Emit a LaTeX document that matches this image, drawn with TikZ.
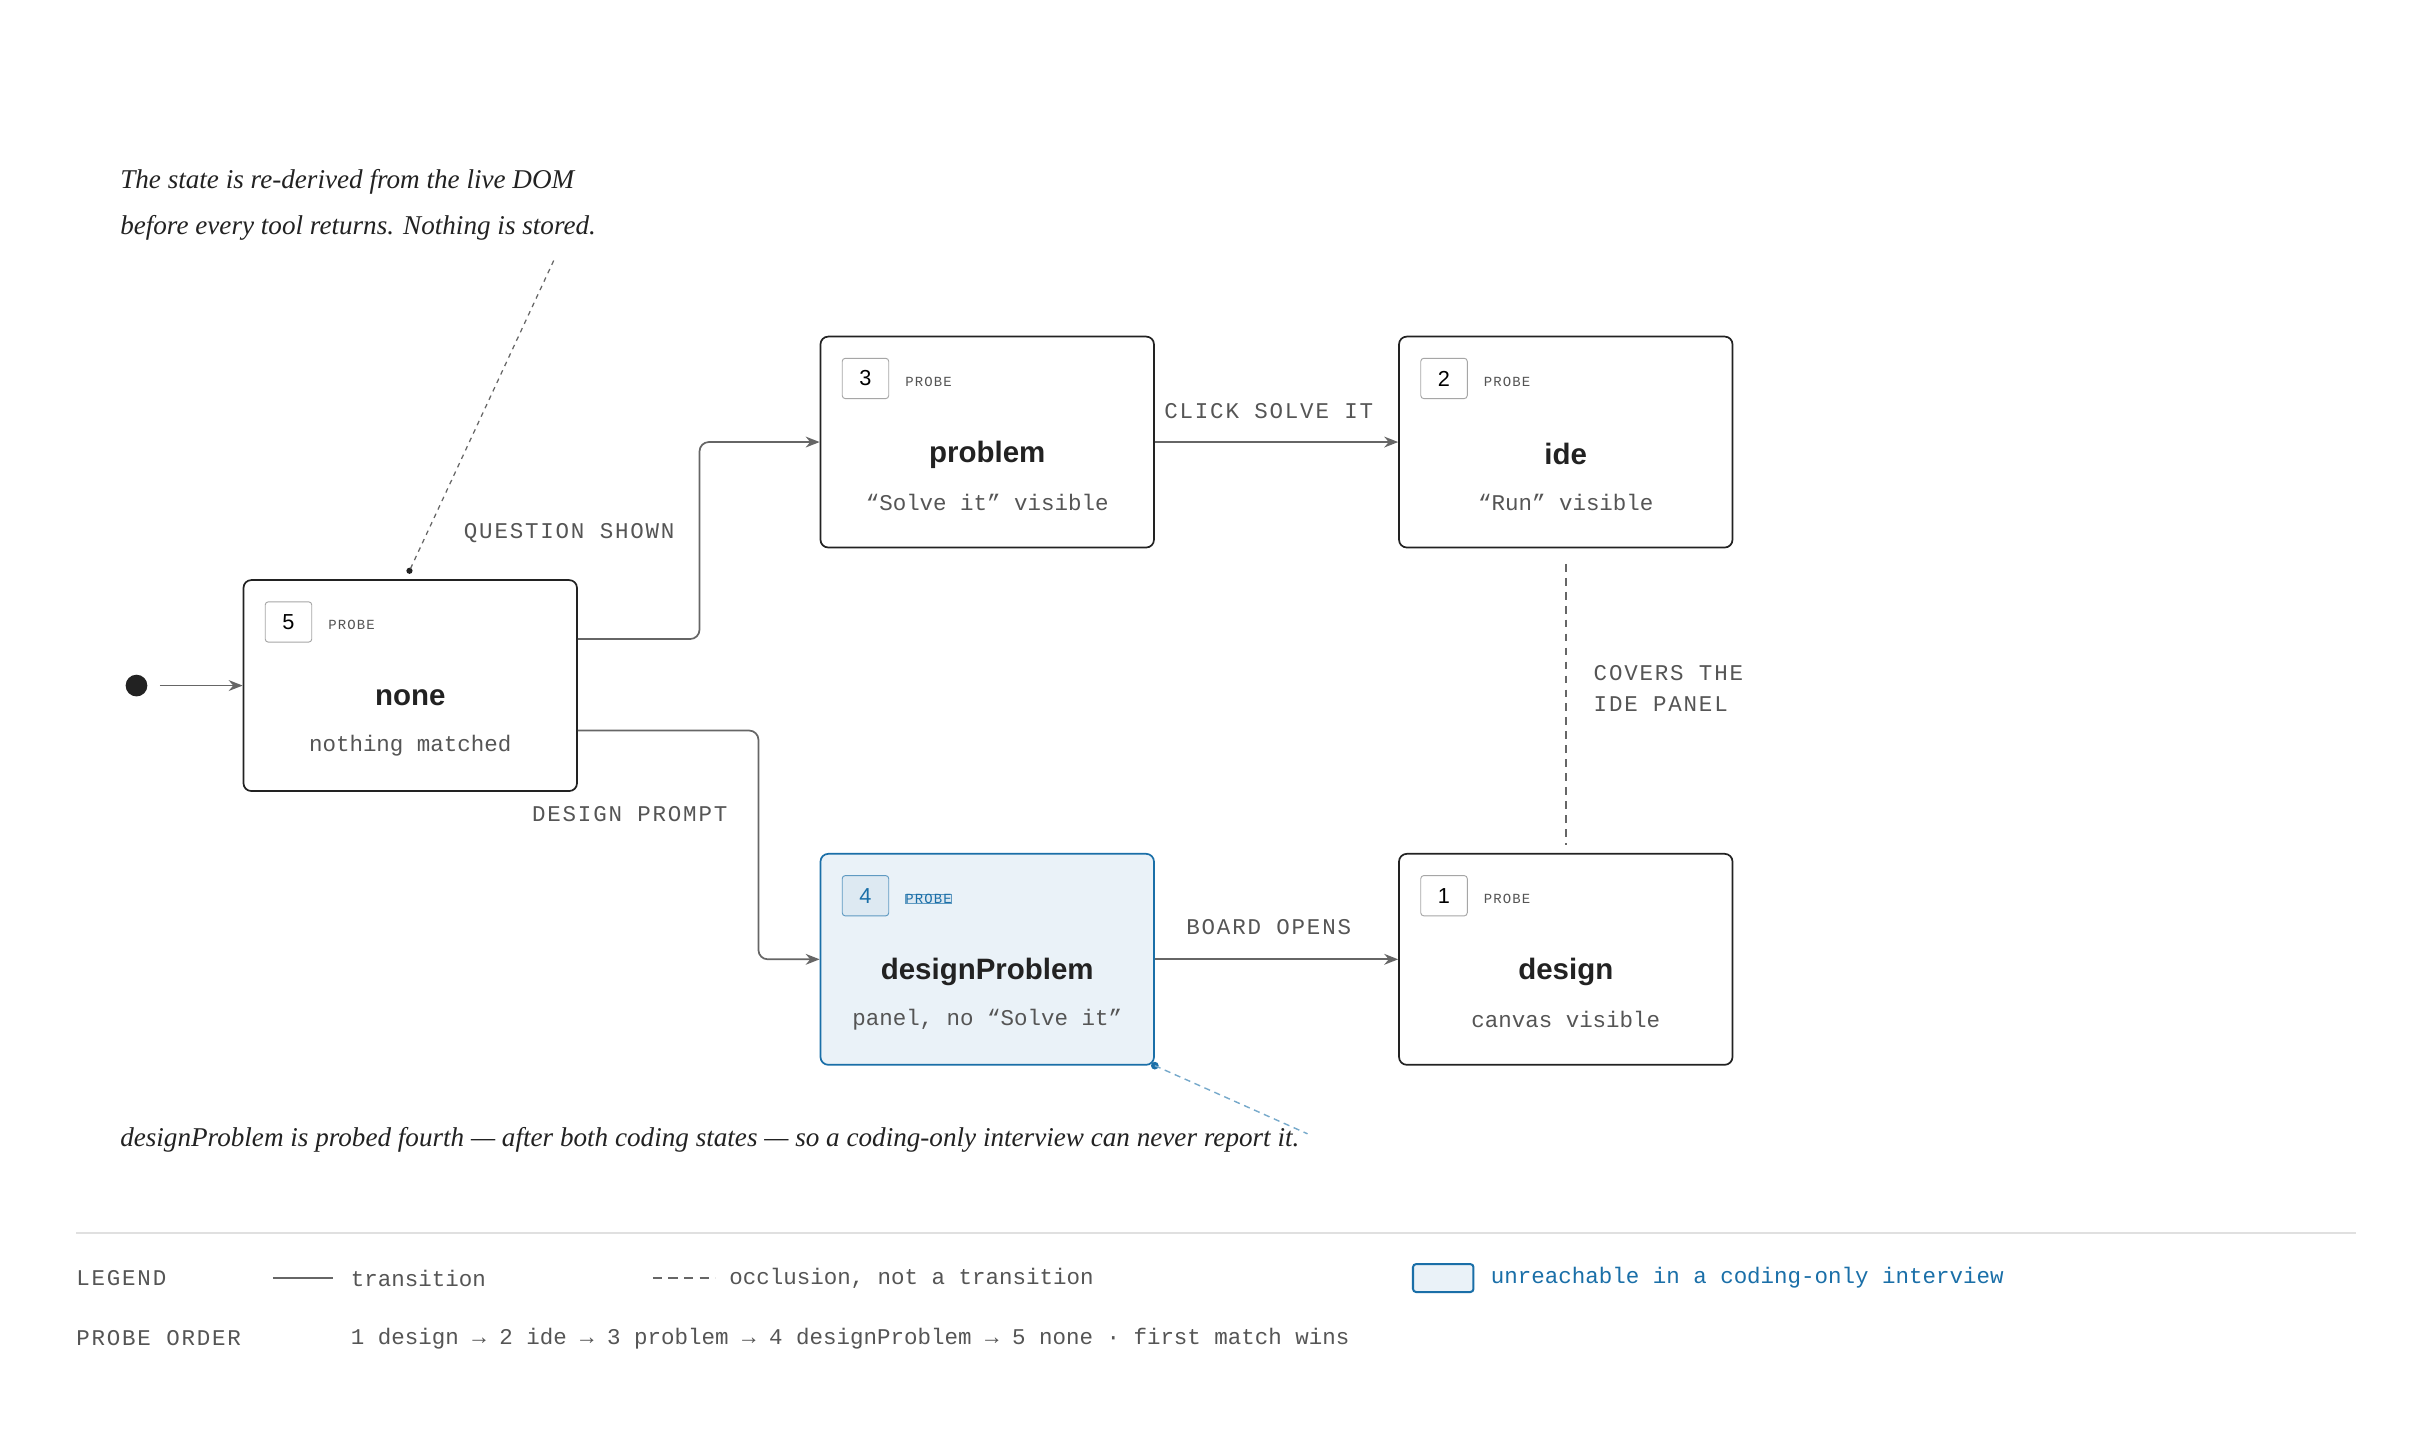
\documentclass[tikz,border=0pt]{standalone}
\usepackage{fontspec}
\setmainfont{Liberation Serif}
\setsansfont{Liberation Sans}
\setmonofont{Liberation Mono}
\newfontfamily\monosp{Liberation Mono}[LetterSpace=8]
\usetikzlibrary{calc,arrows.meta,positioning}
\definecolor{ink}{HTML}{222222}
\definecolor{wire}{HTML}{666666}
\definecolor{lbl}{HTML}{555555}
\definecolor{blu}{HTML}{1A6FA8}
\definecolor{blufill}{HTML}{EAF2F8}
\tikzset{
  state/.style={draw=ink,line width=1.1pt,rounded corners=5pt,fill=white,
    minimum width=215pt,minimum height=136pt},
  hot/.style={state,draw=blu,fill=blufill},
  badge/.style={draw=black!35,fill=white,rounded corners=2pt,line width=0.6pt,
    minimum width=30pt,minimum height=26pt,inner sep=0pt,font=\fontsize{14}{14}\sffamily},
  probe/.style={anchor=west,text=lbl,inner sep=0pt,font=\fontsize{9}{9}\monosp},
  title/.style={text=ink,font=\fontsize{19}{19}\sffamily\bfseries},
  sub/.style={text=lbl,font=\fontsize{14.5}{15}\ttfamily},
  edge/.style={draw=wire,line width=1.1pt,-{Stealth[length=9pt,width=7pt]},rounded corners=6pt},
  elabel/.style={text=lbl,font=\fontsize{14.5}{20}\monosp},
  note/.style={anchor=west,text=ink,font=\fontsize{17.5}{30}\itshape,align=left}
}
\newcommand{\mkstate}[6]{% name, style, center, number, title, subtitle
  \node[#2] (#1) at #3 {};
  \node[badge,#6] (#1num) at ($(#1.center)+(-78.5,-41)$) {#4};
  \node[probe,#6] (#1probe) at ($(#1.center)+(-53,-39)$) {PROBE};
  \node[title] (#1title) at ($(#1.center)+(0,8)$) {#5};
}
\begin{document}
\begin{tikzpicture}[x=1pt,y=-1pt]
\useasboundingbox[fill=white] (0,0) rectangle (1568,932);

% states
\mkstate{none}{state}{(264.5,442)}{5}{none}{}
\node[sub] (nonesub) at ($(none.center)+(0,39)$) {nothing matched};
\mkstate{problem}{state}{(636.5,285)}{3}{problem}{}
\node[sub] (problemsub) at ($(problem.center)+(0,39)$) {“Solve it” visible};
\mkstate{ide}{state}{(1009.5,285)}{2}{ide}{}
\node[sub] (idesub) at ($(ide.center)+(0,39)$) {“Run” visible};
\mkstate{dp}{hot}{(636.5,618.5)}{4}{designProblem}{draw=blu!70,fill=blu!15,text=blu}
\node[sub] (dpsub) at ($(dp.center)+(0,39)$) {panel, no “Solve it”};
\mkstate{design}{state}{(1009.5,618.5)}{1}{design}{}
\node[sub] (designsub) at ($(design.center)+(0,39)$) {canvas visible};

% start
\node[circle,fill=ink,minimum size=14pt,inner sep=0pt] (start) at (88,442) {};
\draw[edge] (start) ++(15,0) coordinate (s0) -- (none.west);

% transitions
\draw[edge] ($(none.east)+(0,-30)$) -| (451,330) |- (problem.west);
\draw[edge] ($(none.east)+(0,29)$) -| (489,560) |- (dp.west);
\draw[edge] (problem) -- (ide);
\draw[edge] (dp) -- (design);
\draw[wire,line width=1.1pt,dash pattern=on 5pt off 4pt]
  ($(ide.south)+(0,10)$) coordinate (occ1) -- ($(design.north)+(0,-5)$) coordinate (occ2);

\node[elabel] (lq) at (367,344) {QUESTION SHOWN};
\node[elabel] (ld) at (406,525) {DESIGN PROMPT};
\node[elabel] (lc) at (818,265) {CLICK SOLVE IT};
\node[elabel] (lb) at (818,598) {BOARD OPENS};
\node[elabel,anchor=west,align=left] (lo) at (1024,444) {COVERS THE\\IDE PANEL};

% notes
\node[note] (n1) at (74,132) {The state is re-derived from the live DOM\\before every tool returns. Nothing is stored.};
\coordinate (n1tip) at (357,168);
\fill[ink] (264,368) circle (2pt) coordinate (n1end);
\draw[wire,line width=0.8pt,dash pattern=on 3pt off 3pt] (n1tip) -- (n1end);
\node[note] (n2) at (74,735) {designProblem is probed fourth — after both coding states — so a coding-only interview can never report it.};
\fill[blu] (dp.south east) circle (2.5pt);
\coordinate (n2tip) at (843,731);
\draw[blu!60,line width=0.9pt,dash pattern=on 4pt off 3pt] (dp.south east) -- (n2tip);

% legend
\draw[black!12,line width=1.2pt] (49,795) coordinate (r0) -- (1519,795) coordinate (r1);
\node[elabel,anchor=west,inner sep=0pt] (leg) at (49,824) {LEGEND};
\draw[wire,line width=1.3pt] (176,824) coordinate (l0) -- (215,824) coordinate (l1);
\node[sub,anchor=west,inner sep=0pt] (legt) at (226,824) {transition};
\draw[wire,line width=1.3pt,dash pattern=on 6pt off 4pt] (421,824) coordinate (l2) -- (461,824) coordinate (l3);
\node[sub,anchor=west,inner sep=0pt] (lego) at (470,824) {occlusion, not a transition};
\node[draw=blu,fill=blufill,line width=1.3pt,rounded corners=2pt,minimum width=39pt,minimum height=18pt,inner sep=0pt] (legbox) at (930.5,824) {};
\node[sub,anchor=west,inner sep=0pt,text=blu] (legu) at (961,824) {unreachable in a coding-only interview};
\node[elabel,anchor=west,inner sep=0pt] (ord) at (49,863) {PROBE ORDER};
\node[sub,anchor=west,inner sep=0pt] (ordt) at (226,863) {1 design → 2 ide → 3 problem → 4 designProblem → 5 none · first match wins};
\end{tikzpicture}
\end{document}
